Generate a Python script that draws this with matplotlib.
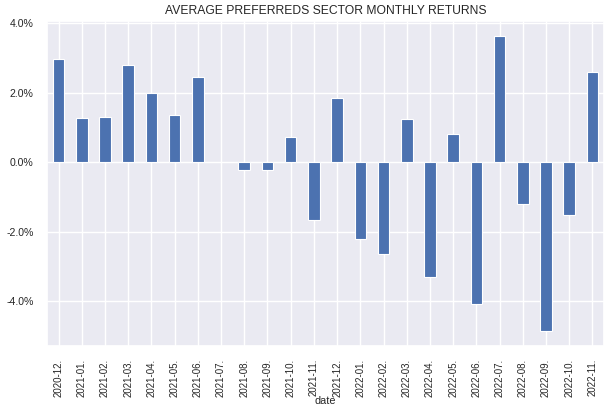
import numpy as np
import matplotlib
matplotlib.use("Agg")
import matplotlib.pyplot as plt
import seaborn as sns
from matplotlib.ticker import FuncFormatter

sns.set_theme(style="darkgrid")
plt.rcParams['font.family'] = ['Liberation Sans', 'DejaVu Sans']

# monthly returns in %
dates = ["2020-12.", "2021-01.", "2021-02.", "2021-03.", "2021-04.", "2021-05.",
         "2021-06.", "2021-07.", "2021-08.", "2021-09.", "2021-10.", "2021-11.",
         "2021-12.", "2022-01.", "2022-02.", "2022-03.", "2022-04.", "2022-05.",
         "2022-06.", "2022-07.", "2022-08.", "2022-09.", "2022-10.", "2022-11."]
returns = [2.98, 1.26, 1.29, 2.81, 1.98, 1.35,
           2.46, 0.0, -0.23, -0.23, 0.72, -1.68,
           1.86, -2.2, -2.64, 1.23, -3.3, 0.8,
           -4.1, 3.64, -1.2, -4.87, -1.52, 2.6]

fig, ax = plt.subplots(figsize=(6.16, 4.05), dpi=100)
x = np.arange(len(dates))
ax.bar(x, returns, width=0.5, color='#4c72b0', edgecolor='white', linewidth=0.8)

ax.set_xticks(x)
ax.set_xticklabels(dates, rotation=90, fontsize=7.0)
ax.tick_params(axis='x', pad=3)
ax.set_xlim(-0.5, len(dates) - 0.5)
ax.yaxis.set_major_formatter(FuncFormatter(lambda v, pos: f'{v:.1f}%'))
ax.tick_params(axis='y', labelsize=7.6)
ax.set_xlabel('date', fontsize=7.8)
ax.xaxis.set_label_coords(0.5, -0.154)
ax.set_title('AVERAGE PREFERREDS SECTOR MONTHLY RETURNS', fontsize=8.7, pad=5)

fig.subplots_adjust(left=47/616, right=604/616, top=1 - 21/405, bottom=1 - 346/405)
fig.savefig('out.png', dpi=100)
